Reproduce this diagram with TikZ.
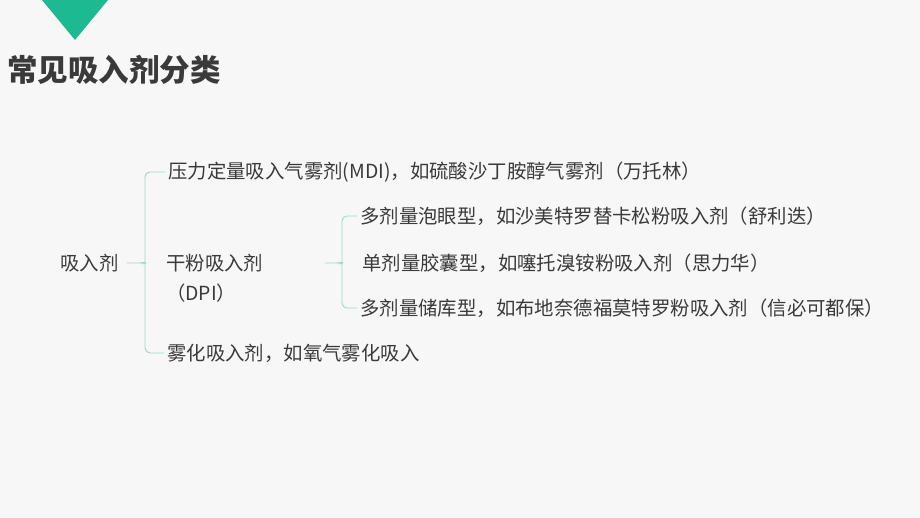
\documentclass[tikz,border=0pt]{standalone}
\usepackage{fontspec}
\newfontfamily\cjk{Noto Sans CJK SC}
\usetikzlibrary{positioning}
\definecolor{bgcol}{HTML}{F7F7F7}
\definecolor{teal}{HTML}{1DBA92}
\definecolor{txt}{HTML}{3A3A3A}
\definecolor{linkcol}{HTML}{9BD8C8}
\tikzset{
  item/.style={anchor=west, inner sep=0pt, text=txt, font=\cjk\fontsize{19.4}{22}\selectfont},
  link/.style={draw=linkcol, line width=0.9pt, rounded corners=5pt},
}
\begin{document}
\begin{tikzpicture}[x=1pt,y=-1pt]
  \fill[bgcol] (0,0) rectangle (920,518);
  \useasboundingbox (0,0) rectangle (920,518);
  % header
  \fill[teal] (42,0) -- (108,0) -- (75,40) -- cycle;
  \node[anchor=west, inner sep=0pt, text=txt, font=\cjk\bfseries\fontsize{30.5}{33}\selectfont] (title) at (7,70) {常见吸入剂分类};
  % first level
  \node[item] (root) at (60,263) {吸入剂};
  \node[item] (mdi) at (168,172) {压力定量吸入气雾剂(MDI)，如硫酸沙丁胺醇气雾剂（万托林）};
  \node[item] (dpi) at (166,263) {干粉吸入剂};
  \node[item] (dpib) at (166,293) {（DPI）};
  \node[item] (neb) at (167,353) {雾化吸入剂，如氧气雾化吸入};
  % second level
  \node[item] (blister) at (360,216) {多剂量泡眼型，如沙美特罗替卡松粉吸入剂（舒利迭）};
  \node[item] (capsule) at (362,263) {单剂量胶囊型，如噻托溴铵粉吸入剂（思力华）};
  \node[item] (reservoir) at (360,308) {多剂量储库型，如布地奈德福莫特罗粉吸入剂（信必可都保）};
  % braces
  \coordinate (b1) at (145,263);
  \coordinate (b2) at (342,263);
  \draw[link] ([xshift=-3pt]mdi.west) -| ([yshift=-4pt]b1) to[out=90,in=0] ([xshift=-5pt]b1) -- ([xshift=8pt]root.east);
  \draw[link] ([xshift=-3pt]neb.west) -| ([yshift=4pt]b1) to[out=-90,in=0] ([xshift=-5pt]b1);
  \draw[link] ([xshift=-3pt]blister.west) -| ([yshift=-4pt]b2) to[out=90,in=0] ([xshift=-5pt]b2) -- ([xshift=62pt]dpi.east);
  \draw[link] ([xshift=-3pt]reservoir.west) -| ([yshift=4pt]b2) to[out=-90,in=0] ([xshift=-5pt]b2);
\end{tikzpicture}
\end{document}
